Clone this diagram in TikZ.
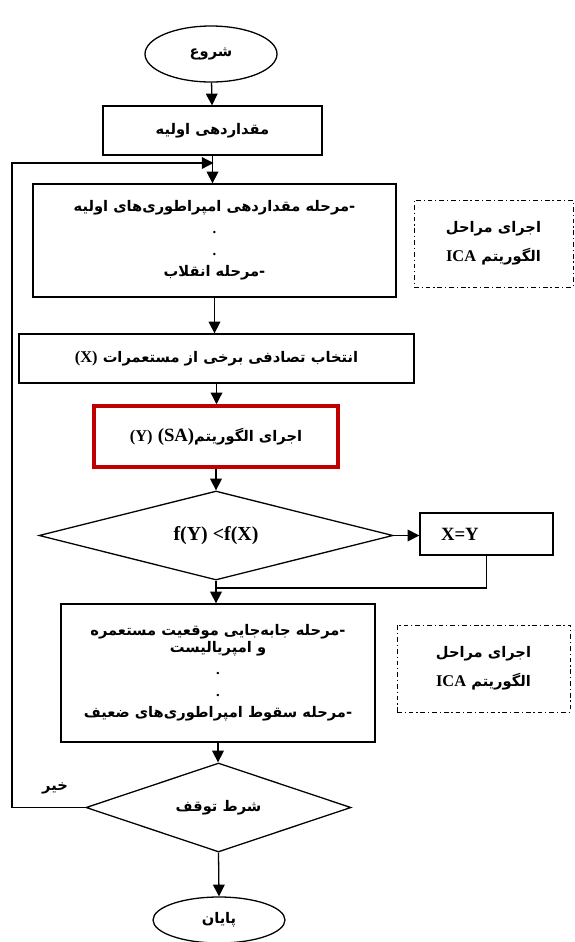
\documentclass[tikz,border=0pt]{standalone}
\usepackage{fontspec}
\setmainfont{Liberation Serif}
\newfontfamily\fafont[Script=Arabic]{DejaVu Sans}
\TeXXeTstate=1
\usetikzlibrary{arrows.meta,positioning,shapes.geometric}
\newcommand{\fa}[1]{{\fafont\bfseries\beginR #1\endR}}
\newcommand{\la}[1]{\beginL{\rmfamily\bfseries #1}\endL}
\definecolor{boxred}{RGB}{192,0,0}

\begin{document}
\begin{tikzpicture}[x=0.03cm, y=-0.03cm,
  every node/.style={inner sep=0pt, align=center, font=\fontsize{12.5}{18.5}\selectfont\bfseries},
  flow/.style={draw, line width=1.1pt},
  term/.style={flow, ellipse, minimum width=3.96cm},
  cond/.style={flow, diamond, aspect=4, minimum height=2.67cm},
  note/.style={draw, line width=0.7pt, dash pattern=on 4pt off 2.5pt on 1pt off 2.5pt},
  arr/.style={line width=1.1pt, -{Triangle[length=10pt,width=10pt]}}]
\useasboundingbox (0,0) rectangle (574,942);

\node[term, minimum height=1.68cm] (start) at (211,54) {\fa{شروع}};
\node[flow, minimum width=6.57cm, minimum height=1.47cm] (init) at (212.5,130.5) {\fa{مقداردهی اولیه}};
\node[flow, minimum width=10.89cm, minimum height=3.39cm] (icaA) at (214.5,240.5)
  {\fa{-مرحله مقداردهی امپراطوری‌های اولیه}\\ .\\ .\\ \fa{-مرحله انقلاب}};
\node[note, minimum width=4.77cm, minimum height=2.61cm] (noteA) at (493.5,243.5)
  {\fa{اجرای مراحل}\\[6pt] \fa{الگوریتم \la{\fontsize{14}{18}\selectfont ICA}}};
\node[flow, minimum width=11.85cm, minimum height=1.47cm] (pick) at (216.5,358.5)
  {\fa{انتخاب تصادفی برخی از مستعمرات \la{\fontsize{14}{18}\selectfont (X)}}};
\node[flow, draw=boxred, line width=3pt, minimum width=7.32cm, minimum height=1.83cm] (sa) at (216,436.5)
  {\fa{اجرای الگوریتم\la{\fontsize{16}{18}\selectfont (SA)} \la{\fontsize{14}{18}\selectfont (Y)}}};
\node[cond, minimum width=10.62cm] (cmp) at (216,535.5) {\la{\fontsize{17}{18}\selectfont f(Y) <f(X)}};
\node[flow, minimum width=3.99cm, minimum height=1.26cm, text width=2.73cm, inner xsep=0.63cm, align=left] (xy) at (486.5,534)
  {\la{\fontsize{16}{18}\selectfont X=Y}};
\node[flow, minimum width=9.42cm, minimum height=4.14cm] (move) at (218,673)
  {\fa{-مرحله جابه‌جایی موقعیت مستعمره}\\[-4pt] \fa{و امپریالیست}\\ .\\ .\\ \fa{-مرحله سقوط امپراطوری‌های ضعیف}};
\node[note, minimum width=5.19cm, minimum height=2.61cm] (noteB) at (483.5,668.5)
  {\fa{اجرای مراحل}\\[6pt] \fa{الگوریتم \la{\fontsize{14}{18}\selectfont ICA}}};
\node[cond, aspect=3, minimum width=7.95cm] (stop) at (218.5,807.5) {\fa{شرط توقف}};
\node[term, minimum height=1.38cm] (end) at (219,920) {\fa{پایان}};
\node (no) at (55,788) {\fa{خیر}};

\coordinate (back) at (12,163);
\coordinate (merge) at (213.5,163);
\coordinate (join) at (216,588);

\draw[arr] (start) -- (init);
\draw[arr] (init.south) -- (init.south |- icaA.north);
\draw[arr] (stop.west) -| (back) -- (merge);
\draw[arr] (icaA.south) -- (icaA.south |- pick.north);
\draw[arr] (pick.south) -- (pick.south |- sa.north);
\draw[arr] (sa.south) -- (cmp.north);
\draw[arr] (cmp.east) -- (cmp.east -| xy.west);
\draw[line width=1.1pt] (xy.south) |- (join);
\draw[arr] (cmp.south) -- (cmp.south |- move.north);
\draw[arr] (move.south) -- (move.south |- stop.north);
\draw[arr] (stop.south) -- (end.north);
\end{tikzpicture}
\end{document}
